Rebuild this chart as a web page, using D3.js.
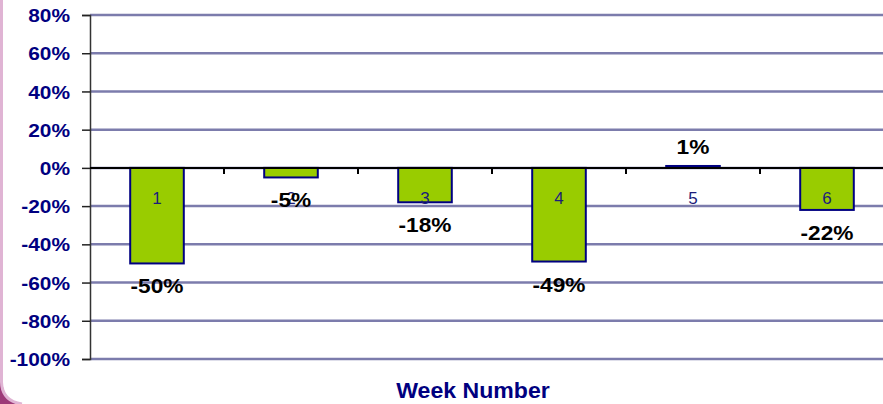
<!DOCTYPE html>
<html>
<head>
<meta charset="utf-8">
<script src="https://cdn.jsdelivr.net/npm/d3@7"></script>
<style>
body { margin: 0; background: #fff; }
svg { display: block; font-family: Arial, "Liberation Sans", sans-serif; }
</style>
</head>
<body>
<svg width="883" height="404"></svg>
<script>
// chart data
var weeks = ["1", "2", "3", "4", "5", "6"];
var changes = [-50, -5, -18, -49, 1, -22];
var yTicks = [80, 60, 40, 20, 0, -20, -40, -60, -80, -100];
var axisTitle = "Week Number";

var svg = d3.select("svg");
// note: "top" is taken by window.top, so use plotTop etc.
var plotLeft = 90, plotRight = 894, plotTop = 15, plotBottom = 359;

// left frame edge
svg.append("path")
.attr("d", "M0,380 L0,404 L20,404 Q3,400 2,380 Z")
.attr("fill", "#9c3a78");
svg.append("path")
.attr("d", "M1.5,0 L1.5,382 Q2,401 22,404")
.attr("fill", "none")
.attr("stroke", "#e0b4d4")
.attr("stroke-width", 3);

var xScale = d3.scaleBand().domain(weeks).range([plotLeft, plotRight]).paddingInner(0.6).paddingOuter(0.3);
var yScale = d3.scaleLinear().domain([-100, 80]).range([plotBottom, plotTop]);

// gridlines
svg.append("g")
.selectAll("line")
.data(yTicks)
.enter()
.append("line")
.attr("x1", plotLeft)
.attr("x2", 883)
.attr("y1", (d)=>yScale(d))
.attr("y2", (d)=>yScale(d))
.attr("stroke", "#7c7cac")
.attr("stroke-width", 2.5);

// y axis
var yAxis = svg.append("g")
.attr("transform", "translate(" + plotLeft + ",0)")
.call(d3.axisLeft(yScale).tickValues(yTicks).tickSize(8).tickPadding(0).tickFormat((d)=>d + "%"));
yAxis.select(".domain").attr("stroke", "#333").attr("stroke-width", 1.5);
yAxis.selectAll(".tick line").attr("stroke", "#222").attr("stroke-width", 1.5);
yAxis.selectAll(".tick text")
.attr("x", -20 / 1.13)
.attr("dy", "0.36em")
.attr("transform", "scale(1.13,1)")
.attr("fill", "#000080")
.style("font-size", "18.5px")
.style("font-weight", "bold");

// bars
var g = svg.append("g");
g.selectAll(".bar")
.data(changes)
.enter()
.append("rect")
.attr("class", "bar")
.attr("x", (d,i)=>xScale(weeks[i]))
.attr("y", (d)=>yScale(Math.max(d, 0)))
.attr("width", xScale.bandwidth())
.attr("height", (d)=>Math.abs(yScale(d) - yScale(0)))
.attr("fill", "#99cc00")
.attr("stroke", "#000080")
.attr("stroke-width", 2);

// x axis at zero
svg.append("line")
.attr("x1", plotLeft)
.attr("x2", 883)
.attr("y1", yScale(0))
.attr("y2", yScale(0))
.attr("stroke", "#000")
.attr("stroke-width", 2);
svg.append("g")
.selectAll("line")
.data(weeks.slice(1))
.enter()
.append("line")
.attr("x1", (d)=>xScale(d) - xScale.step() * 0.3)
.attr("x2", (d)=>xScale(d) - xScale.step() * 0.3)
.attr("y1", yScale(0))
.attr("y2", yScale(0) + 6)
.attr("stroke", "#000")
.attr("stroke-width", 2);

// category labels
svg.append("g")
.selectAll("text")
.data(weeks)
.enter()
.append("text")
.attr("x", (d)=>xScale(d) + xScale.bandwidth() / 2)
.attr("y", yScale(0) + 36)
.attr("text-anchor", "middle")
.attr("fill", "#1c1c7a")
.style("font-size", "17px")
.text((d)=>d);

// value labels
svg.append("g")
.selectAll("text")
.data(changes)
.enter()
.append("text")
.attr("transform", (d,i)=>"translate(" + (xScale(weeks[i]) + xScale.bandwidth() / 2) + "," + (d < 0 ? yScale(d) + 30 : yScale(d) - 12) + ") scale(1.08,1)")
.attr("text-anchor", "middle")
.attr("fill", "#000")
.style("font-size", "21px")
.style("font-weight", "bold")
.text((d)=>d + "%");

// axis title
svg.append("text")
.attr("transform", "translate(473,398) scale(1.05,1)")
.attr("text-anchor", "middle")
.attr("fill", "#000080")
.style("font-size", "22px")
.style("font-weight", "bold")
.text(axisTitle);
</script>
</body>
</html>
